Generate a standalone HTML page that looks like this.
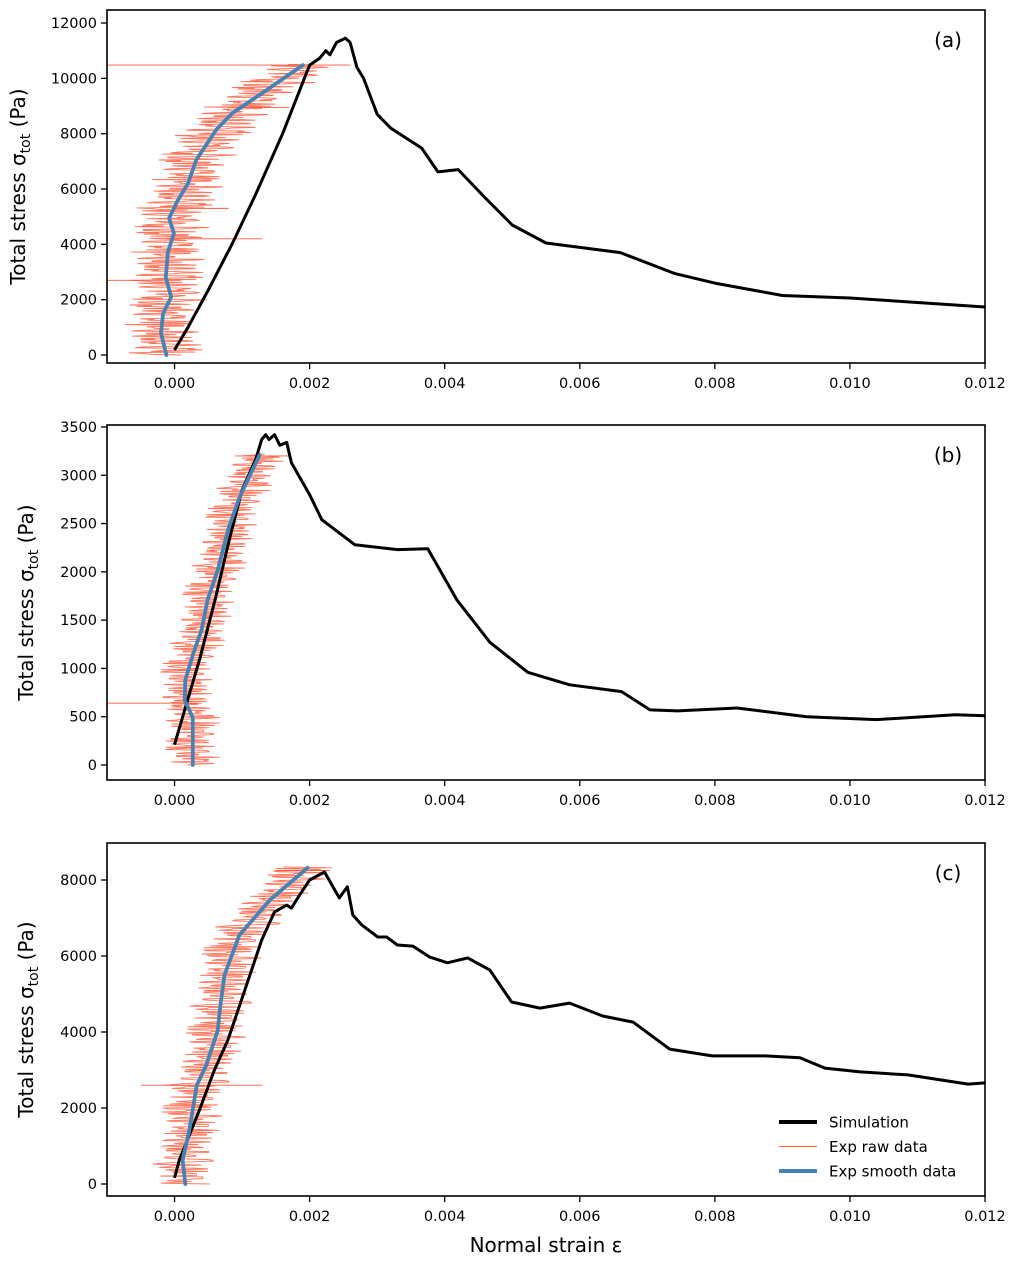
<!DOCTYPE html>
<html><head><meta charset="utf-8">
<style>
html,body{margin:0;padding:0;background:#fff;}
svg{display:block;font-family:"DejaVu Sans","Liberation Sans",sans-serif;}
</style></head>
<body>
<svg id="chart" width="1017" height="1263" viewBox="0 0 1017 1263" xmlns="http://www.w3.org/2000/svg"></svg>
<script>
// ---- data ----
const xTicks = [0, 0.002, 0.004, 0.006, 0.008, 0.010, 0.012];
const xTickLabels = ["0.000","0.002","0.004","0.006","0.008","0.010","0.012"];
const yTicksA = [0,2000,4000,6000,8000,10000,12000];
const yTicksB = [0,500,1000,1500,2000,2500,3000,3500];
const yTicksC = [0,2000,4000,6000,8000];

const simStrainA = [0,0.0002,0.0005,0.00086,0.0012,0.0016,0.002,0.00215,0.00224,0.0023,0.0024,0.00253,0.0026,0.0027,0.0028,0.003,0.0032,0.00366,0.0039,0.0042,0.0046,0.005,0.0055,0.0066,0.0074,0.008,0.009,0.01,0.012];
const simStressA = [180,1000,2350,4050,5800,8000,10480,10730,11000,10850,11300,11450,11300,10400,10000,8700,8200,7480,6620,6700,5680,4700,4050,3700,2950,2600,2150,2060,1735];
const smoothStrainA = [-0.00012,-0.0002,-0.00017,-0.00005,-0.00013,-0.0001,-0.00001,-0.00008,0.00005,0.0002,0.00032,0.00062,0.00086,0.00126,0.0019];
const smoothStressA = [0,800,1500,2100,2800,3700,4400,4950,5600,6200,7050,8150,8750,9400,10480];

const simStrainB = [0,0.00015,0.00037,0.0006,0.00081,0.001,0.0012,0.00129,0.00135,0.0014,0.00148,0.00156,0.00166,0.00173,0.002,0.00218,0.00267,0.0033,0.00375,0.00418,0.00467,0.00523,0.00585,0.00662,0.00704,0.00745,0.00833,0.00936,0.01039,0.01156,0.012];
const simStressB = [210,570,1090,1710,2330,2850,3160,3370,3420,3370,3420,3310,3340,3130,2800,2540,2280,2230,2240,1710,1270,960,830,760,570,560,590,500,470,520,510];
const smoothStrainB = [0.00027,0.00027,0.00015,0.00016,0.00027,0.0004,0.00049,0.00064,0.00079,0.00096,0.00126];
const smoothStressB = [0,490,670,880,1140,1400,1710,2020,2430,2770,3210];

const simStrainC = [0,0.00007,0.00037,0.00059,0.00079,0.00104,0.00129,0.00148,0.00166,0.00173,0.00185,0.002,0.00222,0.00244,0.00256,0.00264,0.00277,0.00301,0.00314,0.0033,0.00353,0.00378,0.00404,0.00434,0.00467,0.00499,0.00541,0.00585,0.00634,0.00679,0.00733,0.00796,0.00874,0.00926,0.00963,0.01015,0.01086,0.01175,0.012];
const simStressC = [160,630,1950,3000,3790,5100,6420,7160,7340,7260,7600,8000,8210,7530,7820,7080,6820,6500,6500,6290,6260,5970,5820,5950,5630,4790,4630,4760,4420,4260,3550,3370,3370,3320,3050,2950,2870,2630,2660];
const smoothStrainC = [0.00016,0.00012,0.00022,0.00033,0.00047,0.00064,0.00067,0.00074,0.00096,0.00141,0.00197];
const smoothStressC = [0,630,1420,2600,3130,4050,4580,5500,6550,7470,8320];

// raw-data jitter around smooth curve (units 1e-4 strain)
const rawJitter = [2,-3,4,-1,3,-4,1,5,-2,-3,3,-1,4,-4,2,-2,5,-3,1,-1,3,-5,2,4,-2,-3,1,3,-4,2,-1,4,-3,2,-2,3,-4,1,5,-1,-3,2,-2,4,-3,1,3,-4,2,-1];
const spikesA = [[10480,-0.001,0.0026],[2700,-0.001,0.0001],[4200,-0.0001,0.0013],[8950,0.0008,0.0017],[5300,0,0.0008]];
const spikesB = [[640,-0.001,0.0004],[3200,0.0009,0.0017]];
const spikesC = [[2600,-0.0005,0.0013],[8250,0.0015,0.0023]];

// ---- drawing ----
const NS = "http://www.w3.org/2000/svg";
const svg = document.getElementById('chart');
function mk(tag, attrs, parent){const e=document.createElementNS(NS,tag);for(const k in attrs)e.setAttribute(k,attrs[k]);(parent||svg).appendChild(e);return e;}
const X0=107, X1=985, xmin=-0.001, xmax=0.012;
const sx = v => X0 + (v-xmin)/(xmax-xmin)*(X1-X0);

function interp(xs, ys, y){
  for(let i=0;i<ys.length-1;i++){ if(y>=ys[i]&&y<=ys[i+1]){const t=(y-ys[i])/(ys[i+1]-ys[i]);return xs[i]+t*(xs[i+1]-xs[i]);} }
  return y<ys[0]?xs[0]:xs[xs.length-1];
}

function panel(cfg){
  const g = mk('g',{});
  
  
  const sy = v => cfg.y0px - (v)/cfg.ystep*cfg.ypx;
  const clipId='clip'+cfg.id;
  const cp=mk('clipPath',{id:clipId},g); mk('rect',{x:X0,y:cfg.top,width:X1-X0,height:cfg.bot-cfg.top},cp);
  const plot=mk('g',{'clip-path':'url(#'+clipId+')'},g);
  const n=200, ymaxRaw=cfg.smY[cfg.smY.length-1];
  let d='';
  for(let i=0;i<=n;i++){
    const yv=ymaxRaw*i/n;
    const xv=interp(cfg.smX,cfg.smY,yv)+rawJitter[(i+cfg.off)%rawJitter.length]*1e-4*cfg.jscale;
    d+=(i?'L':'M')+sx(xv).toFixed(1)+' '+sy(yv).toFixed(1);
    const xv2=interp(cfg.smX,cfg.smY,yv)-rawJitter[(i*7+cfg.off)%rawJitter.length]*1e-4*cfg.jscale;
    d+='L'+sx(xv2).toFixed(1)+' '+sy(yv+ymaxRaw/(2*n)).toFixed(1);
  }
  const raw=mk('path',{d:d,fill:'none',stroke:'#ff5a3c','stroke-width':0.9,'stroke-opacity':0.85},plot);
  
  
  cfg.spikes.forEach(s=>{
    const l=mk('line',{x1:sx(s[1]),x2:sx(s[2]),y1:sy(s[0]),y2:sy(s[0]),stroke:'#ff5a3c','stroke-width':0.9},plot);
    
    
  });
  const sim=mk('polyline',{points:cfg.simX.map((v,i)=>sx(v).toFixed(1)+','+sy(cfg.simY[i]).toFixed(1)).join(' '),fill:'none',stroke:'#000','stroke-width':3,'stroke-linejoin':'round'},plot);
  
  
  const sm=mk('polyline',{points:cfg.smX.map((v,i)=>sx(v).toFixed(1)+','+sy(cfg.smY[i]).toFixed(1)).join(' '),fill:'none',stroke:'#4682b4','stroke-width':3.8,'stroke-linejoin':'round','stroke-linecap':'round'},plot);
  
  
  const fr=mk('rect',{x:X0,y:cfg.top,width:X1-X0,height:cfg.bot-cfg.top,fill:'none',stroke:'#000','stroke-width':1.6},g);
  
  
  xTicks.forEach((t,i)=>{
    mk('line',{x1:sx(t),x2:sx(t),y1:cfg.bot,y2:cfg.bot+6,stroke:'#000','stroke-width':1.3},g);
    const tx=mk('text',{x:sx(t),y:cfg.bot+25,'text-anchor':'middle','font-size':14.5},g);
    tx.textContent=xTickLabels[i];
    
    
  });
  cfg.yt.forEach(t=>{
    mk('line',{x1:X0-6,x2:X0,y1:sy(t),y2:sy(t),stroke:'#000','stroke-width':1.3},g);
    const tx=mk('text',{x:X0-10,y:sy(t)+5,'text-anchor':'end','font-size':14.5},g);
    tx.textContent=String(t);
    
    
  });
  const cy=(cfg.top+cfg.bot)/2;
  const yl=mk('text',{x:0,y:0,transform:'translate('+cfg.ylx+','+cy+') rotate(-90)','text-anchor':'middle','font-size':20},g);
  yl.innerHTML='Total stress σ<tspan font-size="14" dy="5">tot</tspan><tspan dy="-5"> (Pa)</tspan>';
  
  
  const pl=mk('text',{x:948,y:cfg.top+37,'text-anchor':'middle','font-size':20},g);
  pl.textContent='('+cfg.id+')';
  
  
}
panel({id:'a',top:10,bot:363,y0px:355,ystep:2000,ypx:55.33,yt:yTicksA,simX:simStrainA,simY:simStressA,smX:smoothStrainA,smY:smoothStressA,spikes:spikesA,off:0,jscale:1.1,ylx:25});
panel({id:'b',top:425,bot:780,y0px:765,ystep:500,ypx:48.29,yt:yTicksB,simX:simStrainB,simY:simStressB,smX:smoothStrainB,smY:smoothStressB,spikes:spikesB,off:11,jscale:0.8,ylx:33});
panel({id:'c',top:843,bot:1196,y0px:1184,ystep:2000,ypx:76,yt:yTicksC,simX:simStrainC,simY:simStressC,smX:smoothStrainC,smY:smoothStressC,spikes:spikesC,off:23,jscale:0.9,ylx:33});

const xl=mk('text',{x:546,y:1252,'text-anchor':'middle','font-size':20});
xl.textContent='Normal strain ε';



const lg=mk('g',{});


const items=[['Simulation','#000',4],['Exp raw data','#ff5a3c',1],['Exp smooth data','#4682b4',4]];
items.forEach((it,i)=>{
  const y=1122+i*24.5;
  mk('line',{x1:779,x2:817,y1:y,y2:y,stroke:it[1],'stroke-width':it[2]},lg);
  const t=mk('text',{x:829,y:y+5.5,'font-size':15},lg);
  t.textContent=it[0];
  
  
});
</script>
</body></html>
